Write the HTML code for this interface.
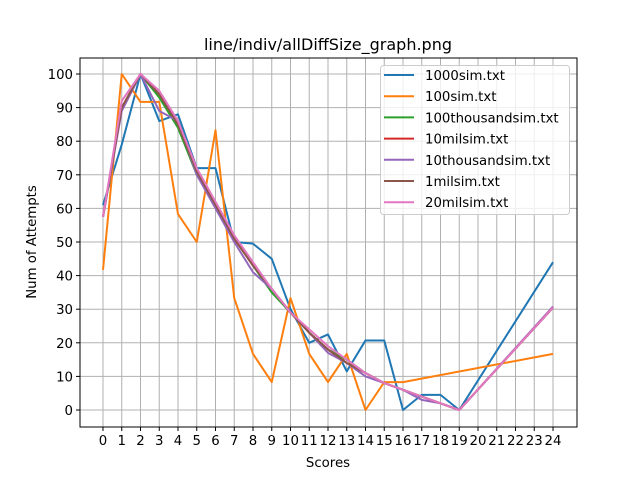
<!DOCTYPE html>
<html><head><meta charset="utf-8"><style>
body{margin:0;background:#fff;}
svg text{font-family:"DejaVu Sans","Liberation Sans",sans-serif;fill:#000;}
</style></head><body>
<svg id="chart" width="640" height="480" xmlns="http://www.w3.org/2000/svg">
<rect width="640" height="480" fill="#fff"/>
<g id="grid"></g><g id="series"></g><g id="axes"></g>
<text x="328" y="50" font-size="16" text-anchor="middle">line/indiv/allDiffSize_graph.png</text>
<text x="328" y="467" font-size="13.3" text-anchor="middle">Scores</text>
<text x="36" y="242" font-size="13.3" text-anchor="middle" transform="rotate(-90 36 242)">Num of Attempts</text>
<g id="legend"></g>
</svg>
<script>
const xTicks=[0,1,2,3,4,5,6,7,8,9,10,11,12,13,14,15,16,17,18,19,20,21,22,23,24];
const yTicks=[0,10,20,30,40,50,60,70,80,90,100];
const seriesNames=["1000sim.txt","100sim.txt","100thousandsim.txt","10milsim.txt","10thousandsim.txt","1milsim.txt","20milsim.txt"];
const colors=["#1f77b4","#ff7f0e","#2ca02c","#d62728","#9467bd","#8c564b","#e377c2"];
const xsFull=[0,1,2,3,4,5,6,7,8,9,10,11,12,13,14,15,16,17,18,19,24];
const xsOrange=[0,1,2,3,4,5,6,7,8,9,10,11,12,13,14,15,16,24];
const s1000=[61,79,100,86,88,72,72,50,49.5,45,30,20,22.5,11.5,20.7,20.7,0,4.5,4.5,0,44];
const s100=[41.7,100,91.7,91.7,58.3,50,83.3,33.3,16.7,8.3,33.3,16.7,8.3,16.7,0,8.3,8.3,16.7];
const s100k=[57.5,90,100,93,84,70,61,51,43,35,29,23,18,15,11,8,6,4,2,0,30.5];
const s10m=[57.5,90,100,94,85,71,61,51,43,36,29,23,18,14,11,8,6,4,2,0,30.5];
const s10k=[57.5,89,100,89,86,70,60,50,41,36,29,23,17,14,10,8,6,3,2,0,30.8];
const s1m=[57.5,90,100,94,85,71,61,51,43,36,29,23,18,14,11,8,6,4,2,0,30.5];
const s20m=[57.5,92,100,95,86,72,62,52,44,36,29,24,19,15,11,8,6,4,2,0,30.5];
const allVals=[s1000,s100,s100k,s10m,s10k,s1m,s20m];
const allXs=[xsFull,xsOrange,xsFull,xsFull,xsFull,xsFull,xsFull];
const L=80,R=577,T=58,B=427;
const X=v=>103+v*18.75;
const Y=v=>410-v*3.36;
const NS="http://www.w3.org/2000/svg";
function mk(tag,attrs,parent){const e=document.createElementNS(NS,tag);for(const k in attrs)e.setAttribute(k,attrs[k]);parent.appendChild(e);return e;}
const grid=document.getElementById('grid'),axes=document.getElementById('axes'),ser=document.getElementById('series'),leg=document.getElementById('legend');
xTicks.forEach(t=>{
  const g=mk('line',{x1:X(t),x2:X(t),y1:T,y2:B,stroke:'#b0b0b0','stroke-width':1},grid);
  
  
  const tk=mk('line',{x1:X(t),x2:X(t),y1:B,y2:B+4,stroke:'#000'},axes);
  
  
  const lb=mk('text',{x:X(t),y:B+18,'font-size':13.3,'text-anchor':'middle'},axes);
  lb.textContent=t;
  
  
});
yTicks.forEach(t=>{
  const g=mk('line',{x1:L,x2:R,y1:Y(t),y2:Y(t),stroke:'#b0b0b0','stroke-width':1},grid);
  
  
  const tk=mk('line',{x1:L-4,x2:L,y1:Y(t),y2:Y(t),stroke:'#000'},axes);
  
  
  const lb=mk('text',{x:L-7,y:Y(t)+5,'font-size':13.3,'text-anchor':'end'},axes);
  lb.textContent=t;
  
  
});
const frame=mk('rect',{x:L,y:T,width:R-L,height:B-T,fill:'none',stroke:'#000','stroke-width':1},axes);


allVals.forEach((vals,i)=>{
  const pts=vals.map((v,j)=>X(allXs[i][j])+','+Y(v)).join(' ');
  const p=mk('polyline',{points:pts,fill:'none',stroke:colors[i],'stroke-width':2,'stroke-linejoin':'round'},ser);
  
  
});
const lb=mk('rect',{x:380.5,y:65.5,width:189,height:149,rx:3,fill:'#fff','fill-opacity':0.8,stroke:'#ccc'},leg);


seriesNames.forEach((n,i)=>{
  const y=75+i*21.2;
  const g=mk('g',{},leg);
  
  
  mk('line',{x1:384,x2:414,y1:y,y2:y,stroke:colors[i],'stroke-width':2},g);
  const t=mk('text',{x:425,y:y+5,'font-size':13.3},g);
  t.textContent=n;
});
</script>
</body></html>
